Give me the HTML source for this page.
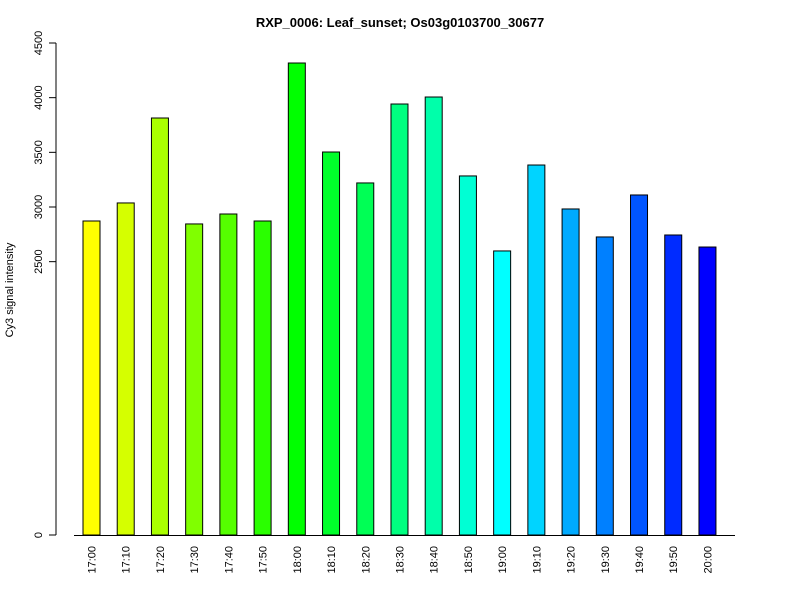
<!DOCTYPE html>
<html><head><meta charset="utf-8"><style>
body{margin:0;background:#fff;}
svg{display:block;font-family:"Liberation Sans",Arial,sans-serif;}
</style></head><body>
<svg id="chart" width="800" height="600">
<text x="400" y="27" text-anchor="middle" font-size="13" font-weight="bold">RXP_0006: Leaf_sunset; Os03g0103700_30677</text>
<text transform="translate(13,290) rotate(-90)" text-anchor="middle" font-size="11">Cy3 signal intensity</text>
<g id="bars"></g><g id="yaxis"></g><g id="xaxis"></g>
</svg>
<script>
const categories=["17:00","17:10","17:20","17:30","17:40","17:50","18:00","18:10","18:20","18:30","18:40","18:50","19:00","19:10","19:20","19:30","19:40","19:50","20:00"];
const values=[2872,3037,3814,2845,2936,2872,4317,3503,3220,3942,4006,3284,2598,3384,2982,2726,3110,2744,2634];
const yTicks=[0,2500,3000,3500,4000,4500];
const NS="http://www.w3.org/2000/svg";
const y=v=>535-v*(492/4500);
const x=i=>91.5+i*34.22;
function mk(t,a,p){const e=document.createElementNS(NS,t);for(const k in a)e.setAttribute(k,a[k]);p.appendChild(e);return e;}
const bars=document.getElementById('bars'),ya=document.getElementById('yaxis'),xa=document.getElementById('xaxis');
values.forEach((v,i)=>{
 const r=mk('rect',{x:x(i)-8.5,y:y(v),width:17,height:y(0)-y(v),fill:`hsl(${60+i*10},100%,50%)`,stroke:'#000','stroke-width':1},bars);
 
 
 const t=mk('text',{transform:`translate(${x(i)+4},546) rotate(-90)`,'text-anchor':'end','font-size':11},xa);
 t.textContent=categories[i];
 
 
});
const l=mk('line',{x1:56,x2:56,y1:y(4500),y2:y(0),stroke:'#000'},ya);


const xl=mk('line',{x1:74,x2:735,y1:535.5,y2:535.5,stroke:'#000'},xa);


yTicks.forEach(v=>{
 const tk=mk('line',{x1:49,x2:56,y1:y(v),y2:y(v),stroke:'#000'},ya);
 
 
 const t=mk('text',{transform:`translate(42,${y(v)}) rotate(-90)`,'text-anchor':'middle','font-size':11},ya);
 t.textContent=v;
 
 
});
</script>
</body></html>
